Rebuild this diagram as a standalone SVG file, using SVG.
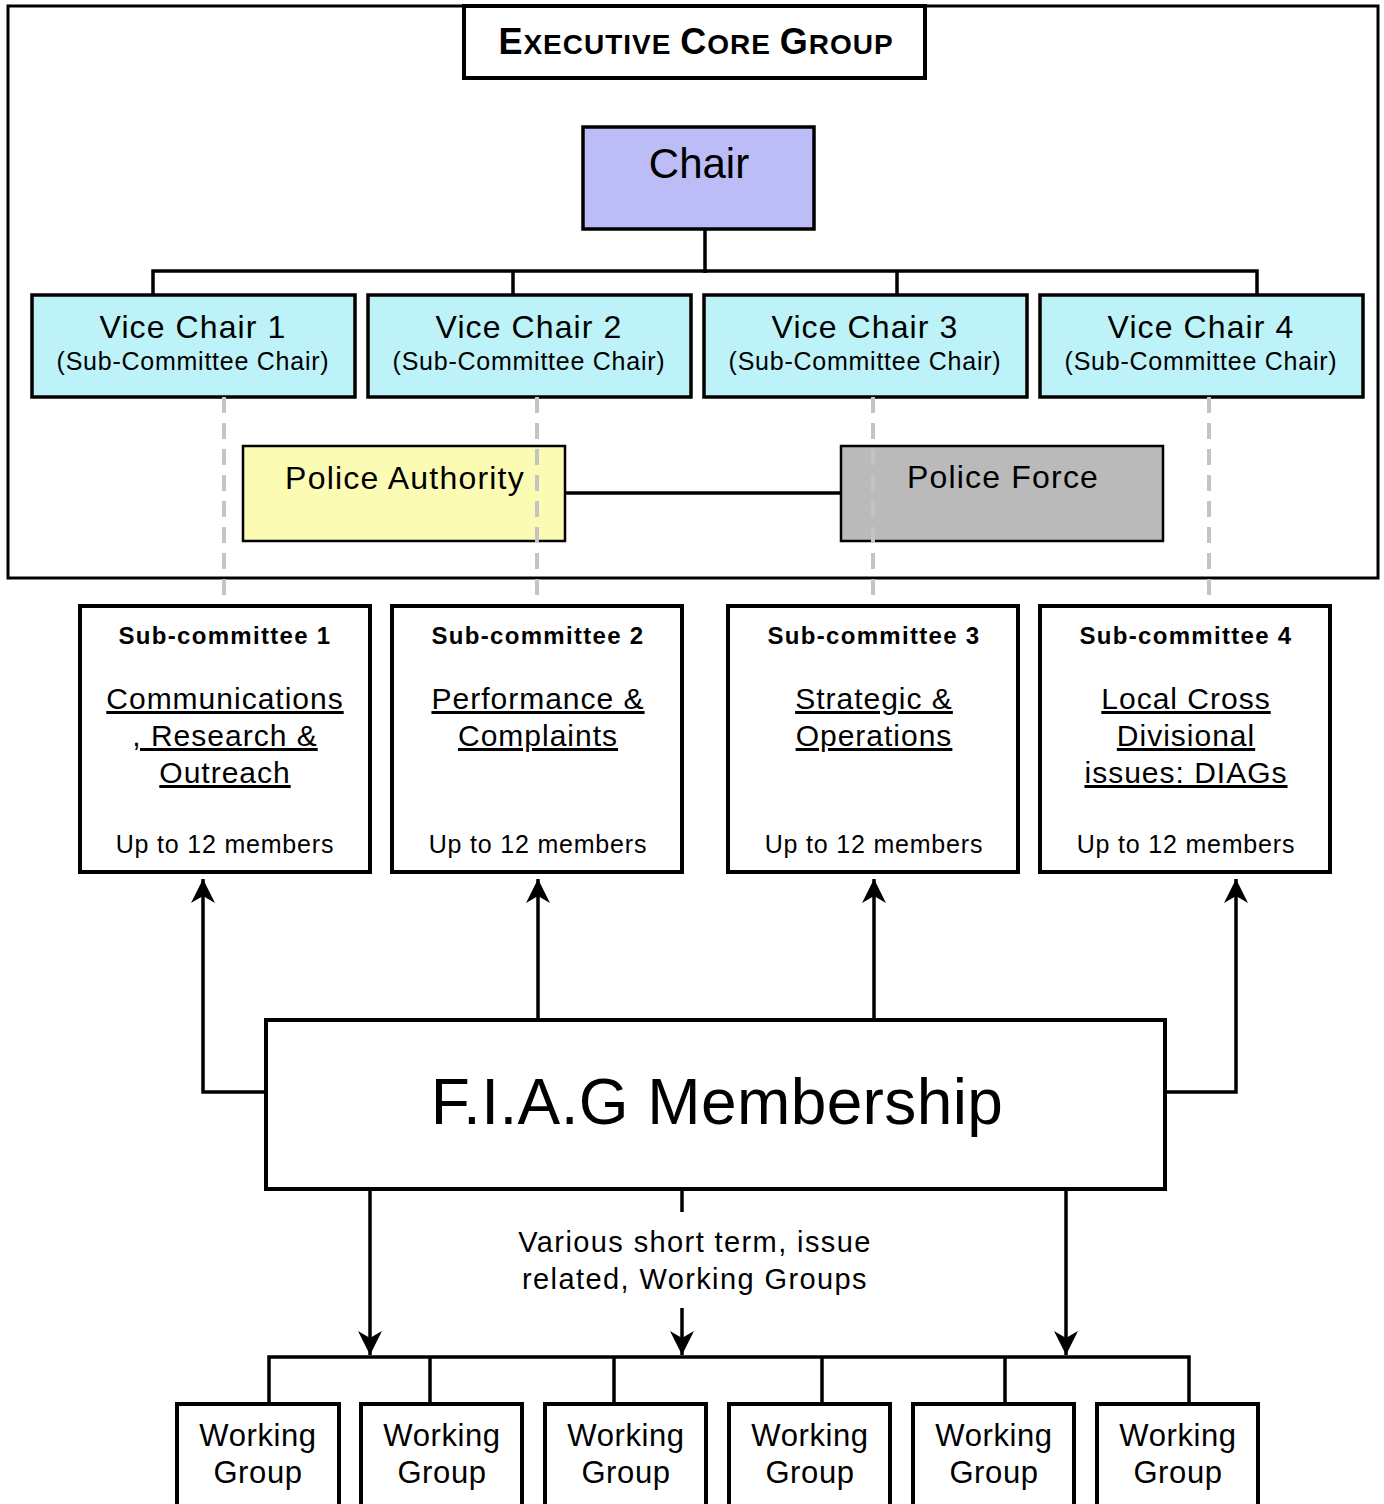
<svg xmlns="http://www.w3.org/2000/svg" width="1384" height="1504" viewBox="0 0 1384 1504">
<style>
text{font-family:"Liberation Sans",Arial,sans-serif;fill:#000}
.box{fill:#fff;stroke:#000;stroke-width:4}
.ln{stroke:#000;stroke-width:3.5;fill:none}
.dash{stroke:#c4c4c4;stroke-width:4;stroke-dasharray:16 10;fill:none}
.vc1{font-size:32px;text-anchor:middle;letter-spacing:1.1px}
.vc2{font-size:25px;text-anchor:middle;letter-spacing:0.75px}
.sct{font-size:24px;font-weight:bold;text-anchor:middle;letter-spacing:1.3px}
.scu{font-size:30px;text-anchor:middle;text-decoration:underline;letter-spacing:1px}
.scm{font-size:25px;text-anchor:middle;letter-spacing:0.8px}
.wg{font-size:31px;text-anchor:middle;letter-spacing:0.6px}
.pol{font-size:32px;text-anchor:middle;letter-spacing:1.2px}
</style>
<defs>
<marker id="ah" viewBox="0 0 24 24" refX="24" refY="12" markerWidth="24" markerHeight="24" markerUnits="userSpaceOnUse" orient="auto">
<path d="M0,0 L24,12 L0,24 L7,12 Z" fill="#000"/>
</marker>
</defs>
<rect width="1384" height="1504" fill="#fff"/>

<g id="executive-core-group">
<rect x="8" y="6" width="1370" height="572" fill="none" stroke="#000" stroke-width="3"/>
<rect x="464" y="6" width="461" height="72" class="box" stroke-width="3"/>
<text x="696" y="54" text-anchor="middle" font-weight="bold" font-size="36" letter-spacing="1"><tspan>E</tspan><tspan font-size="28">XECUTIVE </tspan><tspan>C</tspan><tspan font-size="28">ORE </tspan><tspan>G</tspan><tspan font-size="28">ROUP</tspan></text>
</g>

<g id="connectors">
<line class="ln" x1="705" y1="229" x2="705" y2="273"/>
<polyline class="ln" points="153,295 153,271 1257,271 1257,295"/>
<line class="ln" x1="513" y1="271" x2="513" y2="295"/>
<line class="ln" x1="897" y1="271" x2="897" y2="295"/>
<line class="ln" x1="565" y1="493" x2="841" y2="493"/>
<polyline class="ln" points="266,1092 203,1092 203,879" marker-end="url(#ah)"/>
<line class="ln" x1="538" y1="1020" x2="538" y2="879" marker-end="url(#ah)"/>
<line class="ln" x1="874" y1="1020" x2="874" y2="879" marker-end="url(#ah)"/>
<polyline class="ln" points="1165,1092 1236,1092 1236,879" marker-end="url(#ah)"/>
<line class="ln" x1="370" y1="1189" x2="370" y2="1355" marker-end="url(#ah)"/>
<line class="ln" x1="682" y1="1189" x2="682" y2="1212"/>
<line class="ln" x1="682" y1="1308" x2="682" y2="1355" marker-end="url(#ah)"/>
<line class="ln" x1="1066" y1="1189" x2="1066" y2="1355" marker-end="url(#ah)"/>
<polyline class="ln" points="269,1404 269,1357 1189,1357 1189,1404"/>
<line class="ln" x1="430" y1="1357" x2="430" y2="1404"/>
<line class="ln" x1="614" y1="1357" x2="614" y2="1404"/>
<line class="ln" x1="822" y1="1357" x2="822" y2="1404"/>
<line class="ln" x1="1005" y1="1357" x2="1005" y2="1404"/>
</g>

<g id="chair">
<rect x="583" y="127" width="231" height="102" fill="#bcbcf6" stroke="#000" stroke-width="3.5"/>
<text x="699" y="178" text-anchor="middle" font-size="42">Chair</text>
</g>

<g id="vice-chair-1">
<rect x="32" y="295" width="323" height="102" fill="#bdf3f8" stroke="#000" stroke-width="3.5"/>
<text class="vc1" x="193" y="338">Vice Chair 1</text>
<text class="vc2" x="193" y="370">(Sub-Committee Chair)</text>
</g>
<g id="vice-chair-2">
<rect x="368" y="295" width="323" height="102" fill="#bdf3f8" stroke="#000" stroke-width="3.5"/>
<text class="vc1" x="529" y="338">Vice Chair 2</text>
<text class="vc2" x="529" y="370">(Sub-Committee Chair)</text>
</g>
<g id="vice-chair-3">
<rect x="704" y="295" width="323" height="102" fill="#bdf3f8" stroke="#000" stroke-width="3.5"/>
<text class="vc1" x="865" y="338">Vice Chair 3</text>
<text class="vc2" x="865" y="370">(Sub-Committee Chair)</text>
</g>
<g id="vice-chair-4">
<rect x="1040" y="295" width="323" height="102" fill="#bdf3f8" stroke="#000" stroke-width="3.5"/>
<text class="vc1" x="1201" y="338">Vice Chair 4</text>
<text class="vc2" x="1201" y="370">(Sub-Committee Chair)</text>
</g>

<g id="police-authority">
<rect x="243" y="446" width="322" height="95" fill="#fbfbb4" stroke="#000" stroke-width="2.5"/>
<text class="pol" x="405" y="489">Police Authority</text>
</g>
<g id="police-force">
<rect x="841" y="446" width="322" height="95" fill="#bababa" stroke="#000" stroke-width="2.5"/>
<text class="pol" x="1003" y="488">Police Force</text>
</g>

<g id="dashed-links">
<line class="dash" x1="224" y1="397" x2="224" y2="605"/>
<line class="dash" x1="537" y1="397" x2="537" y2="605"/>
<line class="dash" x1="873" y1="397" x2="873" y2="605"/>
<line class="dash" x1="1209" y1="397" x2="1209" y2="605"/>
</g>

<g id="sub-committee-1">
<rect class="box" x="80" y="606" width="290" height="266"/>
<text class="sct" x="225" y="644">Sub-committee 1</text>
<text class="scu" x="225" y="709">Communications</text>
<text class="scu" x="225" y="746">, Research &amp;</text>
<text class="scu" x="225" y="783">Outreach</text>
<text class="scm" x="225" y="853">Up to 12 members</text>
</g>
<g id="sub-committee-2">
<rect class="box" x="392" y="606" width="290" height="266"/>
<text class="sct" x="538" y="644">Sub-committee 2</text>
<text class="scu" x="538" y="709">Performance &amp;</text>
<text class="scu" x="538" y="746">Complaints</text>
<text class="scm" x="538" y="853">Up to 12 members</text>
</g>
<g id="sub-committee-3">
<rect class="box" x="728" y="606" width="290" height="266"/>
<text class="sct" x="874" y="644">Sub-committee 3</text>
<text class="scu" x="874" y="709">Strategic &amp;</text>
<text class="scu" x="874" y="746">Operations</text>
<text class="scm" x="874" y="853">Up to 12 members</text>
</g>
<g id="sub-committee-4">
<rect class="box" x="1040" y="606" width="290" height="266"/>
<text class="sct" x="1186" y="644">Sub-committee 4</text>
<text class="scu" x="1186" y="709">Local Cross</text>
<text class="scu" x="1186" y="746">Divisional</text>
<text class="scu" x="1186" y="783">issues: DIAGs</text>
<text class="scm" x="1186" y="853">Up to 12 members</text>
</g>

<g id="fiag-membership">
<rect class="box" x="266" y="1020" width="899" height="169"/>
<text x="717" y="1124" text-anchor="middle" font-size="64" letter-spacing="0.4">F.I.A.G Membership</text>
</g>

<g id="working-groups-label">
<text x="695" y="1252" text-anchor="middle" font-size="29" letter-spacing="1.4">Various short term, issue</text>
<text x="695" y="1289" text-anchor="middle" font-size="29" letter-spacing="1.4">related, Working Groups</text>
</g>

<g id="working-group-1"><rect class="box" x="177" y="1404" width="162" height="110"/><text class="wg" x="258" y="1446">Working</text><text class="wg" x="258" y="1483">Group</text></g>
<g id="working-group-2"><rect class="box" x="361" y="1404" width="161" height="110"/><text class="wg" x="442" y="1446">Working</text><text class="wg" x="442" y="1483">Group</text></g>
<g id="working-group-3"><rect class="box" x="545" y="1404" width="161" height="110"/><text class="wg" x="626" y="1446">Working</text><text class="wg" x="626" y="1483">Group</text></g>
<g id="working-group-4"><rect class="box" x="729" y="1404" width="161" height="110"/><text class="wg" x="810" y="1446">Working</text><text class="wg" x="810" y="1483">Group</text></g>
<g id="working-group-5"><rect class="box" x="913" y="1404" width="161" height="110"/><text class="wg" x="994" y="1446">Working</text><text class="wg" x="994" y="1483">Group</text></g>
<g id="working-group-6"><rect class="box" x="1097" y="1404" width="161" height="110"/><text class="wg" x="1178" y="1446">Working</text><text class="wg" x="1178" y="1483">Group</text></g>
</svg>
